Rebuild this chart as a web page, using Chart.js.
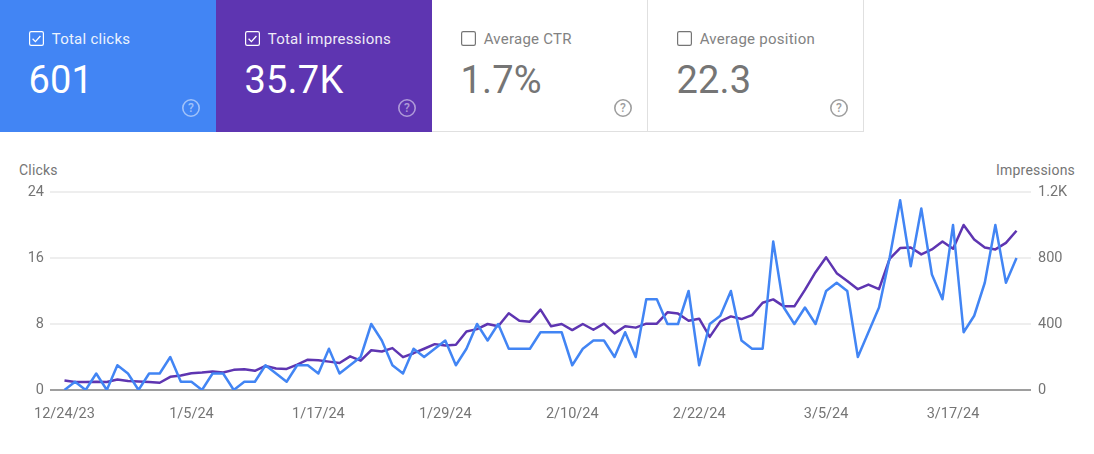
<!DOCTYPE html>
<html>
<head>
<meta charset="utf-8">
<title>Search performance</title>
<script src="https://cdn.jsdelivr.net/npm/chart.js@4"></script>
<style>
  html, body { margin: 0; padding: 0; background: #fff; }
  body { position: relative; width: 1094px; height: 454px; overflow: hidden; font-family: Roboto, sans-serif; }
  .card { position: absolute; top: 0; width: 216px; height: 132px; box-sizing: border-box; color: #757575; }
  .card.plain { border-right: 1px solid #e0e0e0; border-bottom: 1px solid #e0e0e0; }
  .card.clicks { left: 0; background: #4285f4; color: #fff; }
  .card.impressions { left: 216px; background: #5e35b1; color: #fff; }
  .card.ctr { left: 432px; }
  .card.position { left: 648px; }
  .card svg { position: absolute; }
  .card .box { left: 29px; top: 31px; }
  .card .help { left: 180.5px; top: 97.5px; }
  .card .name { position: absolute; left: 51.7px; top: 30px; font-size: 15px; letter-spacing: .25px; line-height: 18px; white-space: nowrap; opacity: .9; }
  .card .value { position: absolute; left: 28.5px; top: 58px; font-size: 38px; letter-spacing: .2px; line-height: 44px; white-space: nowrap; }
  .axis-title { position: absolute; top: 162px; font-size: 14px; letter-spacing: .2px; line-height: 16px; color: #757575; }
  #chart { position: absolute; left: 0; top: 0; }
</style>
</head>
<body>
<div id="cards"></div>
<div class="axis-title" style="left:19px">Clicks</div>
<div class="axis-title" style="right:19px">Impressions</div>
<canvas id="chart" width="1094" height="454"></canvas>
<script>
const dates = [
  '12/24/23','12/25/23','12/26/23','12/27/23','12/28/23','12/29/23','12/30/23','12/31/23',
  '1/1/24','1/2/24','1/3/24','1/4/24','1/5/24','1/6/24','1/7/24','1/8/24','1/9/24','1/10/24','1/11/24','1/12/24',
  '1/13/24','1/14/24','1/15/24','1/16/24','1/17/24','1/18/24','1/19/24','1/20/24','1/21/24','1/22/24','1/23/24',
  '1/24/24','1/25/24','1/26/24','1/27/24','1/28/24','1/29/24','1/30/24','1/31/24',
  '2/1/24','2/2/24','2/3/24','2/4/24','2/5/24','2/6/24','2/7/24','2/8/24','2/9/24','2/10/24','2/11/24','2/12/24',
  '2/13/24','2/14/24','2/15/24','2/16/24','2/17/24','2/18/24','2/19/24','2/20/24','2/21/24','2/22/24','2/23/24',
  '2/24/24','2/25/24','2/26/24','2/27/24','2/28/24','2/29/24',
  '3/1/24','3/2/24','3/3/24','3/4/24','3/5/24','3/6/24','3/7/24','3/8/24','3/9/24','3/10/24','3/11/24','3/12/24',
  '3/13/24','3/14/24','3/15/24','3/16/24','3/17/24','3/18/24','3/19/24','3/20/24','3/21/24','3/22/24','3/23/24'
];
const clicks = [
  0,1,0,2,0,3,2,0,2,2, 4,1,1,0,2,2,0,1,1,3, 2,1,3,3,2,5,2,3,4,8,
  6,3,2,5,4,5,6,3,5,8, 6,8,5,5,5,7,7,7,3,5, 6,6,4,7,4,11,11,8,8,12,
  3,8,9,12,6,5,5,18,10,8, 10,8,12,13,12,4,7,10,16,23, 15,22,14,11,20,7,9,13,20,13, 16
];
const impressions = [
  58,48,48,50,48,64,54,52,48,44, 80,88,102,106,112,106,122,126,116,146,
  130,128,154,184,180,172,164,204,178,241, 233,254,199,223,250,278,270,274,355,369,
  400,386,465,420,414,487,386,400,363,400, 365,402,343,386,378,402,402,471,463,420,
  432,322,416,446,430,454,529,549,507,507, 607,714,804,708,661,611,639,611,794,860,
  864,822,852,900,856,1000,912,864,852,892, 965
];
const tickLabels = ['12/24/23','1/5/24','1/17/24','1/29/24','2/10/24','2/22/24','3/5/24','3/17/24'];
const clickTicks = [0, 8, 16, 24];
const impressionTicks = [0, 400, 800, 1200];
const cards = [
  { id: 'clicks', name: 'Total clicks', value: '601', checked: true },
  { id: 'impressions', name: 'Total impressions', value: '35.7K', checked: true },
  { id: 'ctr', name: 'Average CTR', value: '1.7%', checked: false },
  { id: 'position', name: 'Average position', value: '22.3', checked: false }
];

const BLUE = '#4285f4';
const PURPLE = '#5e35b1';

document.getElementById('cards').innerHTML = cards.map(c => {
  const stroke = c.checked ? '#fff' : '#757575';
  const check = c.checked ? `<path d="M3.6 7.8l2.8 2.8 5-5.6" fill="none" stroke="#fff" stroke-width="1.3"/>` : '';
  const helpColor = c.checked ? 'rgba(255,255,255,.5)' : '#9e9e9e';
  return `<div class="card ${c.id} ${c.checked ? '' : 'plain'}">
    <svg class="box" width="15" height="15"><rect x=".6" y=".6" width="13.8" height="13.8" rx="1.6" fill="none" stroke="${stroke}" stroke-width="1.2"/>${check}</svg>
    <div class="name">${c.name}</div>
    <div class="value">${c.value}</div>
    <svg class="help" width="20" height="20"><circle cx="10" cy="10" r="8.2" fill="none" stroke="${helpColor}" stroke-width="1.6"/><text x="10" y="14.3" text-anchor="middle" font-family="Roboto" font-size="12" font-weight="500" fill="${helpColor}">?</text></svg>
  </div>`;
}).join('');

const toPoints = values => values.map((y, i) => ({ x: i, y }));
const fmtImpressions = v => v >= 1000 ? `${v / 1000}K` : `${v}`;

new Chart(document.getElementById('chart'), {
  type: 'line',
  data: {
    datasets: [
      { label: 'Clicks', data: toPoints(clicks), yAxisID: 'y', borderColor: BLUE, borderWidth: 2.5, borderJoinStyle: 'round', pointRadius: 0, tension: 0, order: 1 },
      { label: 'Impressions', data: toPoints(impressions), yAxisID: 'y1', borderColor: PURPLE, borderWidth: 2.5, borderJoinStyle: 'round', pointRadius: 0, tension: 0, order: 2 }
    ]
  },
  options: {
    responsive: false,
    animation: false,
    layout: { padding: { top: 192, left: 0, right: 0, bottom: 0 } },
    plugins: { legend: { display: false }, tooltip: { enabled: false } },
    scales: {
      x: {
        type: 'linear',
        min: -1.37,
        max: 91.37,
        grid: { display: false },
        border: { display: false },
        afterBuildTicks: scale => {
          scale.ticks = tickLabels.map(label => ({ value: dates.indexOf(label) }));
        },
        afterFit: scale => { scale.height = 64; },
        ticks: {
          autoSkip: false,
          maxRotation: 0,
          padding: 8,
          color: '#757575',
          font: { family: 'Roboto', size: 14.5 },
          callback: value => dates[value]
        }
      },
      y: {
        position: 'left',
        min: 0,
        max: 24,
        afterBuildTicks: scale => { scale.ticks = clickTicks.map(value => ({ value })); },
        afterFit: scale => { scale.width = 50; },
        border: { display: false },
        grid: {
          drawTicks: false,
          lineWidth: 2,
          color: ctx => ctx.tick.value === 0 ? '#9e9e9e' : '#eeeeee'
        },
        ticks: { padding: 6, color: '#757575', font: { family: 'Roboto', size: 14.5 } }
      },
      y1: {
        position: 'right',
        min: 0,
        max: 1200,
        afterBuildTicks: scale => { scale.ticks = impressionTicks.map(value => ({ value })); },
        afterFit: scale => { scale.width = 63; },
        border: { display: false },
        grid: { display: false, drawTicks: false },
        ticks: { padding: 7, color: '#757575', font: { family: 'Roboto', size: 14.5 }, callback: fmtImpressions }
      }
    }
  }
});
</script>
</body>
</html>
